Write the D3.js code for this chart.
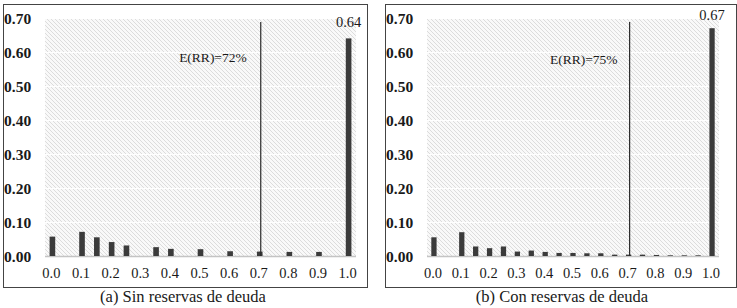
<!DOCTYPE html>
<html>
<head>
<meta charset="utf-8">
<script src="https://cdn.jsdelivr.net/npm/d3@7"></script>
<style>
  html, body { margin: 0; padding: 0; background: #fff; }
  svg { display: block; }
  text { font-family: "Liberation Serif", "Times New Roman", serif; fill: #1a1a1a; }
</style>
</head>
<body>
<svg id="chart" width="737" height="308"></svg>
<script>
// ---- data ----
const categories = ["0.0","0.05","0.1","0.15","0.2","0.25","0.3","0.35","0.4","0.45","0.5",
                    "0.55","0.6","0.65","0.7","0.75","0.8","0.85","0.9","0.95","1.0"];
const xTickLabels = ["0.0","0.1","0.2","0.3","0.4","0.5","0.6","0.7","0.8","0.9","1.0"];
const yTicks = [0, 0.1, 0.2, 0.3, 0.4, 0.5, 0.6, 0.7];
const valuesA = [0.057, 0, 0.071, 0.055, 0.041, 0.031, 0, 0.026, 0.021, 0, 0.020,
                 0, 0.014, 0, 0.013, 0, 0.012, 0, 0.012, 0, 0.64];
const valuesB = [0.055, 0, 0.070, 0.028, 0.023, 0.028, 0.013, 0.016, 0.012, 0.009, 0.009,
                 0.008, 0.008, 0.004, 0.004, 0.004, 0.003, 0.002, 0.002, 0.002, 0.67];
const expectedCategory = "0.7";
const annotationA = "E(RR)=72%";
const annotationB = "E(RR)=75%";
const captionA = "(a) Sin reservas de deuda";
const captionB = "(b) Con reservas de deuda";
const topLabelA = "0.64";
const topLabelB = "0.67";

const svg = d3.select("#chart");
const defs = svg.append("defs");
const pat = defs.append("pattern")
  .attr("id", "hatch").attr("patternUnits", "userSpaceOnUse")
  .attr("width", 4).attr("height", 4);
pat.append("rect").attr("width", 4).attr("height", 4).attr("fill", "#f9f9f9");
pat.append("path").attr("d", "M-1,-1 L5,5 M-1,3 L1,5 M3,-1 L5,1")
  .attr("stroke", "#dcdcdc").attr("stroke-width", 1);

function panel(cfg) {
  const g = svg.append("g");
  // frame
  g.append("rect")
    .attr("x", cfg.box[0] + 0.5).attr("y", cfg.box[1] + 0.5)
    .attr("width", cfg.box[2] - cfg.box[0]).attr("height", cfg.box[3] - cfg.box[1])
    .attr("fill", "#fff").attr("stroke", "#444").attr("stroke-width", 1);

  const x = d3.scaleBand().domain(categories).range([cfg.plotX[0], cfg.plotX[1]]).padding(0);
  const y = d3.scaleLinear().domain([0, 0.7]).range([cfg.plotY[1], cfg.plotY[0]]);

  // hatched plot area
  g.append("rect")
    .attr("x", cfg.plotX[0]).attr("y", y(0.7))
    .attr("width", cfg.plotX[1] - cfg.plotX[0]).attr("height", y(0) - y(0.7))
    .attr("fill", "url(#hatch)");

  // gridlines
  g.selectAll(".grid").data(yTicks.filter(d => d > 0)).join("line")
    .attr("x1", cfg.plotX[0]).attr("x2", cfg.plotX[1])
    .attr("y1", d => Math.round(y(d)) + 0.5).attr("y2", d => Math.round(y(d)) + 0.5)
    .attr("stroke", "#ffffff").attr("stroke-width", 1);

  // baseline
  g.append("line")
    .attr("x1", cfg.plotX[0]).attr("x2", cfg.plotX[1])
    .attr("y1", Math.round(y(0)) + 0.5).attr("y2", Math.round(y(0)) + 0.5)
    .attr("stroke", "#c4c4c4").attr("stroke-width", 1.5);

  // y axis labels
  const yAxis = d3.axisLeft(y).tickValues(yTicks).tickFormat(d3.format(".2f")).tickSize(0);
  const ya = g.append("g").attr("transform", `translate(${cfg.yLabelX},0)`).call(yAxis);
  ya.select(".domain").remove();
  ya.selectAll("text")
    .attr("text-anchor", "start").attr("x", 0).attr("dy", "0.35em")
    .style("font-family", "'Liberation Serif', serif")
    .style("font-size", "15.5px").style("font-weight", "bold").style("fill", "#1a1a1a");

  // x axis labels
  const xAxis = d3.axisBottom(x).tickValues(xTickLabels).tickSize(0);
  const xa = g.append("g").attr("transform", `translate(-1,${cfg.xLabelY})`).call(xAxis);
  xa.select(".domain").remove();
  xa.selectAll("text")
    .attr("y", 0).attr("dy", "0.35em")
    .style("font-family", "'Liberation Serif', serif")
    .style("font-size", "14.5px").style("fill", "#1a1a1a");

  // bars
  const bw = x.bandwidth() * 0.38;
  g.selectAll(".bar").data(cfg.values.map((v, i) => ({ c: categories[i], v })).filter(d => d.v > 0))
    .join("rect")
    .attr("x", d => x(d.c) + x.bandwidth() / 2 - bw / 2)
    .attr("y", d => y(d.v))
    .attr("width", bw)
    .attr("height", d => y(0) - y(d.v))
    .attr("fill", "#3b3b3b");

  // expected value line
  const lx = x(expectedCategory) + x.bandwidth() / 2 + 1;
  g.append("line")
    .attr("x1", lx).attr("x2", lx)
    .attr("y1", cfg.lineTop).attr("y2", y(0))
    .attr("stroke", "#2b2b2b").attr("stroke-width", 1.2);
  g.append("text")
    .attr("x", lx - cfg.annGap).attr("y", cfg.annY)
    .attr("text-anchor", "end").attr("dy", "0.35em")
    .style("font-size", "13.5px")
    .text(cfg.annotation);

  // top label
  const last = categories[categories.length - 1];
  g.append("text")
    .attr("x", x(last) + x.bandwidth() / 2)
    .attr("y", y(cfg.values[cfg.values.length - 1]) - cfg.topGap)
    .attr("text-anchor", "middle")
    .style("font-size", "14.5px")
    .text(cfg.topLabel);

  // caption
  g.append("text")
    .attr("x", cfg.captionX).attr("y", 296).attr("dy", "0.35em")
    .attr("text-anchor", "middle")
    .style("font-size", "16.5px")
    .text(cfg.caption);
}

panel({
  box: [3, 4, 367, 287], plotX: [45, 356], plotY: [18, 256],
  yLabelX: 4, xLabelY: 273, values: valuesA, lineTop: 22,
  annotation: annotationA, annGap: 14, annY: 57,
  topLabel: topLabelA, topGap: 11, caption: captionA, captionX: 183
});
panel({
  box: [385, 4, 736, 287], plotX: [427, 719], plotY: [18, 256],
  yLabelX: 386, xLabelY: 273, values: valuesB, lineTop: 22,
  annotation: annotationB, annGap: 12, annY: 59,
  topLabel: topLabelB, topGap: 8, caption: captionB, captionX: 562
});
</script>
</body>
</html>
